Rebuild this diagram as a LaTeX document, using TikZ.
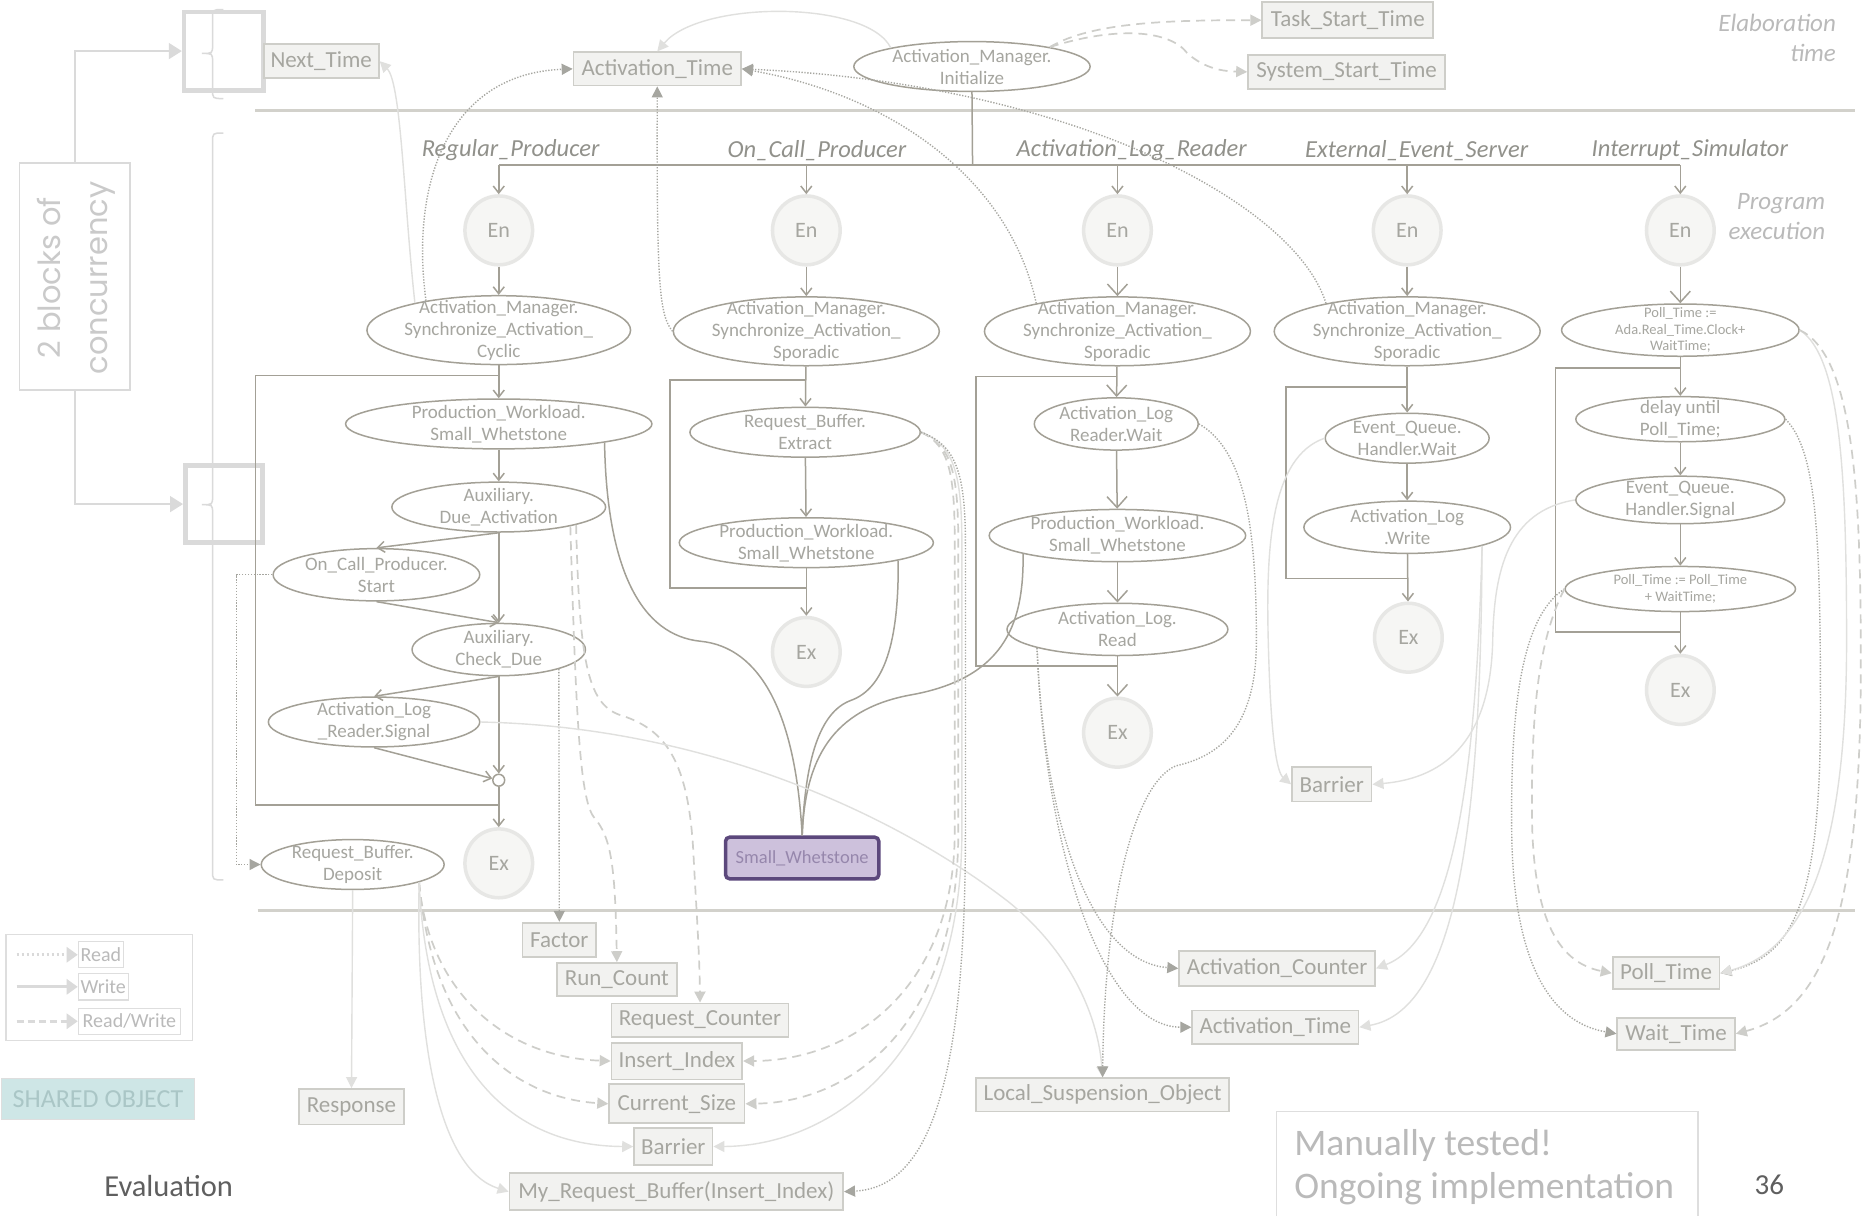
\documentclass[tikz,border=0pt]{standalone}
\usepackage{fontspec}
\setmainfont{Carlito}
\newfontfamily\geofont{Poppins}
\usetikzlibrary{shapes.geometric,arrows.meta,calc}

\definecolor{flowgray}{RGB}{163,160,150}
\definecolor{textgray}{RGB}{166,166,160}
\definecolor{headgray}{RGB}{145,145,139}
\definecolor{palegray}{RGB}{224,224,222}
\definecolor{dotgray}{RGB}{166,166,160}
\definecolor{dashgray}{RGB}{206,206,202}
\definecolor{objfill}{RGB}{242,242,240}
\definecolor{objline}{RGB}{206,206,201}
\definecolor{sepgray}{RGB}{210,209,203}
\definecolor{termfill}{RGB}{246,246,244}
\definecolor{termline}{RGB}{231,231,229}
\definecolor{brkgray}{RGB}{218,218,218}
\definecolor{blocktextgray}{RGB}{202,202,202}
\definecolor{swfill}{RGB}{205,193,220}
\definecolor{swline}{RGB}{92,72,124}
\definecolor{swtext}{RGB}{150,135,172}
\definecolor{tealfill}{RGB}{206,230,230}
\definecolor{tealtext}{RGB}{170,198,198}
\definecolor{darktext}{RGB}{95,95,95}
\definecolor{notegray}{RGB}{186,186,186}
\definecolor{legline}{RGB}{222,222,222}

% process ellipse: name, x, y, rx, ry, text
\newcommand\procnode[7][]{\node[proc, minimum width={2*#5*1.1875pt}, minimum height={2*#6*1.1875pt}, label={[proctext,#1]center:{#7}}] (#2) at (#3,#4) {};}
% rectangular object: name, x1, y1, x2, y2, text
\newcommand\shobj[7][shobj]{\node[#1, minimum width={(#5-#3)*1.1875pt}, minimum height={(#6-#4)*1.1875pt}] (#2) at ({(#3+#5)/2},{(#4+#6)/2}) {#7};}

\begin{document}
\begin{tikzpicture}[x=1.1875pt,y=-1.1875pt,
  proc/.style={ellipse, draw=flowgray, line width=1.5pt, fill=white, inner sep=0pt},
  proctext/.style={text=textgray, align=center, inner sep=0pt, font=\fontsize{19}{22}\selectfont},
  smalltext/.style={font=\fontsize{14.5}{16.5}\selectfont},
  term/.style={ellipse, draw=termline, line width=3.5pt, fill=termfill, text=textgray, minimum width={57*1.1875pt}, minimum height={58*1.1875pt}, inner sep=0pt, font=\fontsize{22}{26}\selectfont},
  shobj/.style={draw=objline, line width=1.8pt, fill=objfill, text=textgray, inner sep=0pt, font=\fontsize{23}{27}\selectfont},
  legitem/.style={draw=legline, line width=1.3pt, fill=white, text=notegray, inner sep=0pt, font=\fontsize{20}{24}\selectfont},
  tealobj/.style={draw=legline, line width=1.3pt, fill=tealfill, text=tealtext, inner sep=0pt, font=\fontsize{26}{30}\selectfont},
  swobj/.style={draw=swline, line width=3.5pt, fill=swfill, rounded corners=4pt, text=swtext, inner sep=0pt, font=\fontsize{18.5}{22}\selectfont},
  head/.style={text=headgray, font=\fontsize{24.5}{28}\selectfont\itshape},
  phase/.style={text=notegray, align=right, font=\fontsize{25}{30}\selectfont\itshape},
  flow/.style={draw=flowgray, line width=1.5pt},
  flowarrow/.style={flow, -{Straight Barb[length=7pt,width=11pt]}},
  bigflow/.style={flow, -{Straight Barb[length=11pt,width=20pt]}},
  wr/.style={draw=palegray, line width=1.4pt, -{Triangle[length=11pt,width=11pt]}},
  rd/.style={draw=dotgray, line width=1.4pt, dash pattern=on 1.3pt off 1.6pt, -{Triangle[length=11pt,width=11pt]}},
  rw/.style={draw=dashgray, line width=1.7pt, dash pattern=on 9pt off 6pt, -{Triangle[length=11pt,width=11pt]}},
  sepline/.style={draw=sepgray, line width=3pt},
  brkbox/.style={draw=brkgray, line width=4.5pt, inner sep=0pt},
  bracepath/.style={draw=brkgray, line width=1.5pt},
  blockframe/.style={draw=brkgray, line width=1.6pt, inner sep=0pt},
  blockarrow/.style={draw=brkgray, line width=1.6pt, -{Triangle[length=13pt,width=16pt]}},
  legarrow/.style={draw=brkgray, line width=3pt, -{Triangle[length=11pt,width=15pt]}}
]
\useasboundingbox (0,0) rectangle (1568,1024);
\fill[white] (0,0) rectangle (1568,1024);

% phase separators
\draw[sepline] (215,93) -- (1562,93);
\draw[sepline] (217,767) -- (1562,767);

% concurrency blocks
\node[blockframe, minimum width={93*1.1875pt}, minimum height={191*1.1875pt}] (blocks) at (63,233) {};
\node[rotate=90, align=center, text=blocktextgray, font=\geofont\fontsize{30.5}{47}\selectfont] (blockstxt) at (64,234) {2 blocks of\\concurrency};
\node[brkbox, minimum width={67*1.1875pt}, minimum height={66*1.1875pt}] (blkA) at (188.5,43) {};
\node[brkbox, minimum width={65*1.1875pt}, minimum height={65*1.1875pt}] (blkB) at (188.5,424.5) {};
\draw[blockarrow] (blocks.north) |- (blkA.west);
\draw[blockarrow] (blocks.south) |- (blkB.west);
\draw[bracepath] (188,8) .. controls (179,8) .. (179,16) -- (179,38) .. controls (179,45) .. (170,45) .. controls (179,45) .. (179,52) -- (179,75) .. controls (179,83) .. (188,83);
\draw[bracepath] (188,112) .. controls (179,112) .. (179,120) -- (179,418) .. controls (179,425) .. (170,425) .. controls (179,425) .. (179,432) -- (179,733) .. controls (179,741) .. (188,741);

% phase labels
\node[phase, anchor=east] (elab) at (1549,32) {Elaboration\\time};
\node[phase, anchor=east] (progexec) at (1540,182) {Program\\execution};

% elaboration objects
\shobj{nextT}{222}{37}{319}{66}{Next\_Time}
\shobj{actT}{483}{44}{624}{72}{Activation\_Time}
\shobj{tst}{1063}{2}{1207}{32}{Task\_Start\_Time}
\shobj{sst}{1051}{46}{1217}{75}{System\_Start\_Time}
\procnode{init}{818.5}{56}{99.5}{21}{Activation\_Manager.\\Initialize}

% task headers
\node[head] (hd1) at (430,126) {Regular\_Producer};
\node[head] (hd2) at (688,127) {On\_Call\_Producer};
\node[head] (hd3) at (953,126) {Activation\_Log\_Reader};
\node[head] (hd4) at (1193,127) {External\_Event\_Server};
\node[head] (hd5) at (1423,126) {Interrupt\_Simulator};

% entry and exit points
\node[term] (en1) at (420,194) {En};
\node[term] (en2) at (679,194) {En};
\node[term] (en3) at (941,194) {En};
\node[term] (en4) at (1185,194) {En};
\node[term] (en5) at (1415,194) {En};
\node[term] (ex1) at (420,727) {Ex};
\node[term] (ex2) at (679,549) {Ex};
\node[term] (ex3) at (941,617) {Ex};
\node[term] (ex4) at (1186,537) {Ex};
\node[term] (ex5) at (1415,581) {Ex};

% Regular_Producer
\procnode{cyc}{420}{278}{111}{29}{Activation\_Manager.\\Synchronize\_Activation\_\\Cyclic}
\procnode{pw1}{420}{357}{129}{21}{Production\_Workload.\\Small\_Whetstone}
\procnode{due}{420}{427}{90}{21}{Auxiliary.\\Due\_Activation}
\procnode{start}{317}{484}{87}{22}{On\_Call\_Producer.\\Start}
\procnode{chk}{420}{547}{73}{22}{Auxiliary.\\Check\_Due}
\procnode{sig}{315}{608}{89}{21}{Activation\_Log\\\_Reader.Signal}
\procnode{dep}{297}{728}{77}{21}{Request\_Buffer.\\Deposit}
\node[circle, draw=flowgray, line width=1.5pt, fill=white, minimum size={10*1.1875pt}, inner sep=0pt] (jn) at (420,657) {};

% On_Call_Producer
\procnode{spor2}{679}{279}{112}{29}{Activation\_Manager.\\Synchronize\_Activation\_\\Sporadic}
\procnode{ext}{678}{364}{97}{21}{Request\_Buffer.\\Extract}
\procnode{pw2}{679}{457}{107}{21}{Production\_Workload.\\Small\_Whetstone}

% Activation_Log_Reader
\procnode{spor3}{941}{279}{112}{29}{Activation\_Manager.\\Synchronize\_Activation\_\\Sporadic}
\procnode{wait}{940}{357}{69}{22}{Activation\_Log\\Reader.Wait}
\procnode{pw3}{941}{451}{108}{22}{Production\_Workload.\\Small\_Whetstone}
\procnode{read}{941}{530}{93}{22}{Activation\_Log.\\Read}

% External_Event_Server
\procnode{spor4}{1185}{279}{112}{29}{Activation\_Manager.\\Synchronize\_Activation\_\\Sporadic}
\procnode{hwait}{1185}{369}{69}{21}{Event\_Queue.\\Handler.Wait}
\procnode{write}{1185}{444}{87}{22}{Activation\_Log\\.Write}

% Interrupt_Simulator
\procnode[smalltext]{pada}{1415}{278}{100}{22}{Poll\_Time :=\\Ada.Real\_Time.Clock+\\WaitTime;}
\procnode{delay}{1415}{353}{88}{19}{delay until\\Poll\_Time;}
\procnode{hsig}{1415}{421}{88}{20}{Event\_Queue.\\Handler.Signal}
\procnode[smalltext]{pinc}{1415}{496}{97}{19}{Poll\_Time := Poll\_Time\\+ WaitTime;}

% shared objects
\node[swobj, minimum width={129*1.1875pt}, minimum height={35*1.1875pt}] (sw) at (675.5,722.5) {Small\_Whetstone};
\shobj{barB}{1088}{646}{1155}{675}{Barrier}
\shobj{factor}{440}{777}{502}{806}{Factor}
\shobj{runc}{469}{811}{570}{839}{Run\_Count}
\shobj{reqc}{515}{845}{664}{873}{Request\_Counter}
\shobj{insidx}{515}{878}{625}{909}{Insert\_Index}
\shobj{cursz}{513}{913}{627}{946}{Current\_Size}
\shobj{barA}{534}{950}{600}{981}{Barrier}
\shobj{myrb}{429}{988}{710}{1019}{My\_Request\_Buffer(Insert\_Index)}
\shobj{resp}{252}{917}{340}{947}{Response}
\shobj{lso}{822}{908}{1035}{936}{Local\_Suspension\_Object}
\shobj{actc}{993}{801}{1158}{830}{Activation\_Counter}
\shobj{actt2}{1004}{851}{1144}{879}{Activation\_Time}
\shobj{pollt}{1358}{806}{1448}{833}{Poll\_Time}
\shobj{waitt}{1362}{857}{1461}{884}{Wait\_Time}

% control flow: task start
\coordinate (hmid) at (819,139);
\coordinate (h1) at (420,139);
\coordinate (h2) at (679,139);
\coordinate (h3) at (941,139);
\coordinate (h4) at (1185,139);
\coordinate (h5) at (1415,139);
\draw[flow] (init.south) -- (hmid);
\draw[flow] (h1) -- (h5);
\draw[flowarrow] (h1) -- (en1.north);
\draw[flowarrow] (h2) -- (en2.north);
\draw[flowarrow] (h3) -- (en3.north);
\draw[flowarrow] (h4) -- (en4.north);
\draw[flowarrow] (h5) -- (en5.north);

% loops
\coordinate (l1t) at (420,316); \coordinate (l1b) at (215,678); \coordinate (l1e) at (420,678);
\coordinate (l2t) at (679,320); \coordinate (l2b) at (564,495); \coordinate (l2e) at (679,495);
\coordinate (l3t) at (941,317); \coordinate (l3b) at (822,561); \coordinate (l3e) at (941,561);
\coordinate (l4t) at (1185,326); \coordinate (l4b) at (1083,487); \coordinate (l4e) at (1185,487);
\coordinate (l5t) at (1415,310); \coordinate (l5b) at (1310,532); \coordinate (l5e) at (1415,532);
\draw[flow] (l1t) -| (l1b) -- (l1e);
\draw[flow] (l2t) -| (l2b) -- (l2e);
\draw[flow] (l3t) -| (l3b) -- (l3e);
\draw[flow] (l4t) -| (l4b) -- (l4e);
\draw[flow] (l5t) -| (l5b) -- (l5e);

% Regular_Producer flow
\draw[flowarrow] (en1) -- (cyc);
\draw[flowarrow] (cyc) -- (pw1);
\draw[flowarrow] (pw1) -- (due);
\draw[flowarrow] (due) -- (chk);
\draw[flowarrow] (due.south) -- (start.north);
\draw[flowarrow] (start.south) -- (chk.north);
\draw[flowarrow] (chk.south) -- (sig.north);
\draw[flowarrow] (chk) -- (jn);
\draw[flowarrow] (sig.south) -- (jn);
\draw[flowarrow] (jn) -- (ex1);

% On_Call_Producer flow
\draw[flowarrow] (en2) -- (spor2);
\draw[flowarrow] (spor2) -- (ext);
\draw[flowarrow] (ext) -- (pw2);
\draw[flowarrow] (pw2) -- (ex2);

% Activation_Log_Reader flow
\draw[bigflow] (en3) -- (spor3);
\draw[bigflow] (spor3) -- (wait);
\draw[bigflow] (wait) -- (pw3);
\draw[bigflow] (pw3) -- (read);
\draw[bigflow] (read) -- (ex3);

% External_Event_Server flow
\draw[flowarrow] (en4) -- (spor4);
\draw[flowarrow] (spor4) -- (hwait);
\draw[flowarrow] (hwait) -- (write);
\draw[flowarrow] (write) -- (ex4);

% Interrupt_Simulator flow
\draw[bigflow] (en5) -- (pada);
\draw[flowarrow] (pada) -- (delay);
\draw[flowarrow] (delay) -- (hsig);
\draw[flowarrow] (hsig) -- (pinc);
\draw[flowarrow] (pinc) -- (ex5);

% calls to the shared Small_Whetstone
\draw[flow] (pw1.-10) .. controls (511,480) and (540,535) .. (590,540) .. controls (640,545) and (670,600) .. (sw.north);
\draw[flow] (pw2.-11) .. controls (757,540) and (745,580) .. (716,590) .. controls (690,600) and (678,640) .. (sw.north);
\draw[flow] (pw3.-169) .. controls (862,520) and (850,570) .. (768,585) .. controls (700,597) and (678,640) .. (sw.north);

% elaboration accesses
\draw[wr] (cyc.162) .. controls (340,170) and (338,70) .. (nextT.east);
\draw[rd] (cyc.158) .. controls (345,150) and (380,62) .. (actT.west);
\draw[rd] (spor2.west) .. controls (555,265) and (553,240) .. (actT.south);
\draw[rd] (spor3.161) .. controls (850,150) and (750,80) .. (actT.east);
\draw[rd] (spor4.161) .. controls (1090,170) and (900,70) .. (actT.east);
\draw[wr] (init.167) .. controls (730,0) and (590,0) .. (actT.north);
\draw[rw] (init.14) .. controls (920,18) and (990,17) .. (tst.west);
\draw[rw] (init.14) .. controls (940,22) and (985,25) .. (1000,45) .. controls (1015,58) and (1030,60) .. (sst.west);

% Regular_Producer accesses
\draw[rd] (start.west) -| (199,728) -- (dep.west);
\draw[rd] (chk.-18) -- (factor.north);
\draw[rw] (due.-15) .. controls (485,600) and (488,672) .. (500,688) .. controls (515,705) and (518,730) .. (runc.north);
\draw[rw] (due.-13) .. controls (488,560) and (495,595) .. (525,603) .. controls (560,615) and (580,640) .. (584,720) .. controls (586,760) and (589,800) .. (reqc.north);
\draw[wr] (sig.east) .. controls (600,612) and (760,690) .. (850,760) .. controls (905,805) and (925,860) .. (lso.north);
\draw[wr] (dep.south) -- (resp.north);
\draw[rw] (dep.-15) .. controls (360,830) and (420,890) .. (insidx.west);
\draw[rw] (dep.-15) .. controls (365,880) and (440,925) .. (cursz.west);
\draw[wr] (dep.-15) .. controls (360,900) and (430,965) .. (barA.west);
\draw[wr] (dep.-15) .. controls (350,880) and (370,985) .. (myrb.west);

% On_Call_Producer accesses
\draw[rw] (ext.east) .. controls (800,375) and (804,400) .. (804,460) -- (804,700) .. controls (804,830) and (720,893) .. (insidx.east);
\draw[rw] (ext.east) .. controls (802,375) and (807,400) .. (807,460) -- (807,700) .. controls (807,860) and (720,928) .. (cursz.east);
\draw[wr] (ext.east) .. controls (804,375) and (810,400) .. (810,460) -- (810,700) .. controls (810,890) and (700,965) .. (barA.east);
\draw[rd] (ext.east) .. controls (806,375) and (813,400) .. (813,460) -- (813,700) .. controls (813,920) and (780,1000) .. (myrb.east);

% Activation_Log_Reader accesses
\draw[rd] (wait.east) .. controls (1050,380) and (1058,450) .. (1058,540) .. controls (1058,620) and (1020,638) .. (990,645) .. controls (955,660) and (930,760) .. (lso.north);
\draw[rd] (read.-167) .. controls (880,700) and (920,810) .. (actc.west);
\draw[rd] (read.-167) .. controls (880,720) and (930,865) .. (actt2.west);

% External_Event_Server accesses
\draw[wr] (write.-14) .. controls (1243,650) and (1225,790) .. (actc.east);
\draw[wr] (write.-14) .. controls (1247,680) and (1230,850) .. (actt2.east);
\draw[wr] (hwait.west) .. controls (1070,385) and (1066,460) .. (1068,540) .. controls (1070,620) and (1075,650) .. (barB.west);

% Interrupt_Simulator accesses
\draw[wr] (hsig.west) .. controls (1270,430) and (1258,480) .. (1257,540) .. controls (1255,620) and (1220,655) .. (barB.east);
\draw[rd] (delay.east) .. controls (1530,380) and (1533,450) .. (1533,600) .. controls (1533,760) and (1510,805) .. (pollt.east);
\draw[wr] (pada.east) .. controls (1550,300) and (1555,400) .. (1555,540) .. controls (1555,720) and (1520,800) .. (pollt.east);
\draw[rw] (pada.east) .. controls (1562,300) and (1567,420) .. (1567,560) .. controls (1567,760) and (1540,850) .. (waitt.east);
\draw[rd] (pinc.west) .. controls (1280,520) and (1272,600) .. (1273,700) .. controls (1274,800) and (1300,860) .. (waitt.west);
\draw[rw] (pinc.west) .. controls (1295,540) and (1290,600) .. (1290,680) .. controls (1290,770) and (1310,810) .. (pollt.west);

% legend
\node[draw=legline, line width=1.5pt, minimum width={157*1.1875pt}, minimum height={89*1.1875pt}, inner sep=0pt] (legend) at (83.5,831.5) {};
\shobj[legitem]{lgr}{66}{793}{104}{815}{Read}
\shobj[legitem]{lgw}{66}{820}{108}{842}{Write}
\shobj[legitem]{lgrw}{66}{849}{152}{871}{Read/Write}
\coordinate (lgr0) at (14,804);
\coordinate (lgw0) at (14,831);
\coordinate (lgrw0) at (14,860);
\draw[legarrow, dash pattern=on 2.5pt off 2.5pt] (lgr0) -- (lgr.west);
\draw[legarrow] (lgw0) -- (lgw.west);
\draw[legarrow, dash pattern=on 7pt off 4pt] (lgrw0) -- (lgrw.west);
\shobj[tealobj]{shared}{1}{908}{164}{943}{SHARED OBJECT}

% footer
\node[text=darktext, font=\fontsize{30.5}{34}\selectfont] (evaltxt) at (142,999) {Evaluation};
\node[text=darktext, font=\fontsize{29}{32}\selectfont] (pagenum) at (1490,998) {36};
\draw[draw=legline, line width=1.5pt] (1075,1024) |- (1430,936) -- (1430,1024);
\node[anchor=west, text=notegray, font=\fontsize{37.5}{42}\selectfont] (note1) at (1087,965) {Manually tested!};
\node[anchor=west, text=notegray, font=\fontsize{37.5}{42}\selectfont] (note2) at (1087,1001) {Ongoing implementation};
\end{tikzpicture}
\end{document}
